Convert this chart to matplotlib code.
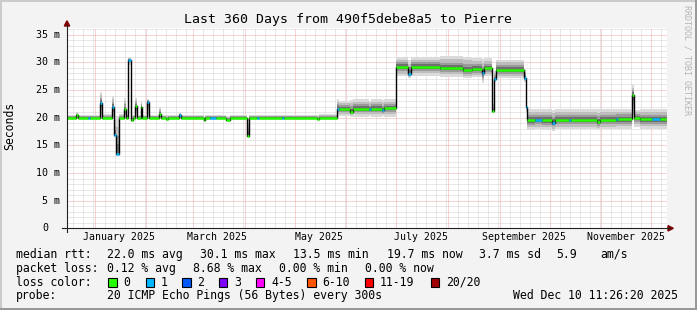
import matplotlib
matplotlib.use('Agg')
import matplotlib.pyplot as plt
from matplotlib.patches import Rectangle, Polygon
from matplotlib.lines import Line2D
from datetime import datetime, timedelta

W, H = 697, 310
start = datetime(2024, 12, 15, 11, 26, 20)   # 360 days before the end stamp
span = 360.0

# median rtt steps: day offset from start, median (ms), smoke low/high (ms), lost pings
seg_day = [0.0, 5.4, 6.6, 12.6, 13.8, 19.5, 20.7, 26.7, 27.9, 29.4,
           30.9, 33.9, 35.1, 36.3, 38.1, 39.3, 40.5, 41.7, 44.1, 45.0,
           48.0, 49.2, 55.2, 56.1, 59.4, 60.6, 67.2, 68.4, 81.9, 82.8,
           85.8, 89.4, 95.4, 97.8, 108.0, 109.2, 114.0, 115.2, 129.0, 130.2,
           150.0, 151.2, 161.7, 162.9, 169.8, 171.6, 181.2, 182.4, 189.0, 190.2,
           197.1, 204.6, 206.1, 223.8, 237.6, 243.0, 248.7, 249.9, 255.0, 256.2,
           257.4, 273.9, 275.1, 276.0, 280.8, 284.8, 291.0, 292.8, 301.2, 302.4,
           318.0, 319.8, 329.4, 330.6, 339.0, 339.9, 343.8, 350.8, 355.8]
seg_med = [20.0, 20.4, 20.0, 20.0, 20.0, 22.6, 20.0, 21.9, 16.9, 13.5,
           20.0, 21.5, 20.0, 30.4, 19.6, 20.0, 22.1, 20.0, 21.9, 20.0,
           22.9, 20.0, 20.7, 20.0, 19.8, 20.0, 20.5, 20.0, 19.5, 20.0,
           20.0, 20.0, 19.6, 20.0, 16.7, 20.0, 20.0, 20.0, 20.0, 20.0,
           19.8, 20.0, 21.6, 21.6, 21.1, 21.6, 21.5, 21.6, 21.4, 21.7,
           29.2, 27.9, 29.2, 28.9, 28.6, 28.8, 28.0, 28.9, 21.2, 27.0,
           28.6, 27.1, 22.0, 19.5, 19.6, 19.5, 19.1, 19.6, 19.6, 19.6,
           19.2, 19.6, 19.7, 19.7, 24.1, 20.0, 19.7, 19.7, 19.7]
seg_lo = [19.7, 19.8, 19.7, 19.7, 19.7, 20.0, 19.7, 20.0, 16.5, 13.2,
          19.7, 20.0, 19.7, 29.6, 19.3, 19.7, 20.2, 19.7, 20.3, 19.7,
          20.5, 19.7, 20.0, 19.7, 19.6, 19.7, 19.9, 19.7, 19.3, 19.7,
          19.7, 19.7, 19.4, 19.7, 16.5, 19.7, 19.7, 19.7, 19.7, 19.7,
          19.6, 19.7, 20.2, 20.3, 20.2, 20.2, 20.3, 20.2, 20.3, 20.2,
          27.5, 27.2, 27.6, 27.4, 27.2, 27.4, 26.3, 27.5, 20.8, 26.5,
          27.2, 26.5, 21.0, 17.8, 17.9, 17.8, 17.6, 17.9, 17.9, 17.9,
          17.8, 17.9, 18.0, 18.0, 20.5, 18.3, 18.0, 18.0, 18.0]
seg_hi = [20.5, 21.0, 20.5, 20.5, 20.5, 24.7, 20.6, 24.0, 20.5, 20.3,
          20.6, 23.5, 20.6, 30.9, 20.5, 20.5, 23.6, 20.5, 23.0, 20.5,
          23.4, 20.5, 21.9, 20.5, 20.4, 20.5, 20.9, 20.5, 20.2, 20.5,
          20.5, 20.5, 20.3, 20.5, 19.8, 20.5, 20.5, 20.5, 20.5, 20.5,
          20.4, 20.6, 23.3, 23.0, 23.2, 23.3, 23.0, 23.3, 23.1, 23.3,
          31.0, 30.5, 31.0, 31.2, 31.0, 30.8, 30.6, 30.8, 22.5, 28.5,
          30.5, 28.8, 27.0, 21.6, 21.6, 21.6, 21.4, 21.6, 21.6, 21.6,
          21.5, 21.6, 21.6, 21.6, 25.9, 21.3, 21.5, 21.5, 21.5]
seg_loss = [0, 0, 0, 1, 0, 1, 0, 1, 1, 1,
            0, 0, 0, 1, 0, 0, 0, 0, 0, 0,
            1, 0, 0, 0, 0, 0, 1, 0, 0, 0,
            1, 0, 0, 0, 0, 0, 1, 0, 1, 0,
            0, 0, 1, 0, 0, 0, 1, 0, 1, 0,
            0, 1, 0, 0, 0, 0, 1, 0, 0, 1,
            0, 1, 1, 0, 1, 0, 1, 0, 1, 0,
            0, 0, 1, 0, 0, 0, 0, 1, 0]

loss_labels = ['0', '1', '2', '3', '4-5', '6-10', '11-19', '20/20']
loss_colors = ['#26ff00', '#00b8ff', '#0059ff', '#7e00ff', '#ff00ff', '#ff5500', '#ff0000', '#a10000']
yticks = [0, 5, 10, 15, 20, 25, 30, 35]
ytick_labels = ['0', '5 m', '10 m', '15 m', '20 m', '25 m', '30 m', '35 m']
xlabel_months = [(2025, 1, 'January 2025'), (2025, 3, 'March 2025'), (2025, 5, 'May 2025'),
                 (2025, 7, 'July 2025'), (2025, 9, 'September 2025'), (2025, 11, 'November 2025')]

plt.rcParams['font.family'] = 'DejaVu Sans Mono'
plt.rcParams['lines.scale_dashes'] = False

def fx(x):
    return x / W

def fy(y):
    return 1 - y / H

def day_of(d):
    return (d - start).total_seconds() / 86400.0

fig = plt.figure(figsize=(6.97, 3.10), dpi=100, facecolor='#f3f3f3')
ax = fig.add_axes([fx(67), fy(228.3), 600 / W, 200.3 / H])
ax.set_facecolor('white')
ax.set_xlim(0, span)
ax.set_ylim(0, 36.2)
for s in ax.spines.values():
    s.set_visible(False)
ax.set_xticks([])
ax.set_yticks([])

# grid
dot = (0, (0.72, 0.72))
for v in range(1, 37):
    if v % 5:
        ax.axhline(v, color='#d2d2d2', lw=0.72, ls=dot, zorder=0.5)
for v in yticks[1:]:
    ax.axhline(v, color='#f0a8a8', lw=0.72, ls=dot, zorder=0.6)
months = []
for m in range(12, 25):
    yr = 2024 + (m - 1) // 12
    mo = (m - 1) % 12 + 1
    for md in [1, 7, 13, 19, 25, 31]:
        try:
            d = day_of(datetime(yr, mo, md))
        except ValueError:
            continue
        if 0 < d < span:
            if md == 1:
                months.append(d)
            else:
                ax.axvline(d, color='#d2d2d2', lw=0.72, ls=dot, zorder=0.5)
for d in months:
    ax.axvline(d, color='#f0a8a8', lw=0.72, ls=dot, zorder=0.6)

# smoke
xs = seg_day + [span]
med = seg_med + [seg_med[-1]]
lo = seg_lo + [seg_lo[-1]]
hi = seg_hi + [seg_hi[-1]]
shades = [(1.0, '#dadada'), (0.72, '#bdbdbd'), (0.46, '#9a9a9a'), (0.25, '#707070')]
for f, c in shades:
    ax.fill_between(xs, [m - f * (m - l) for m, l in zip(med, lo)],
                    [m + f * (h - m) for m, h in zip(med, hi)],
                    step='post', color=c, lw=0, zorder=1)

# median
ax.step(xs, med, where='post', color='#000000', lw=1.0, zorder=2)
ax.hlines(seg_med, seg_day, seg_day[1:] + [span],
          colors=[loss_colors[l] for l in seg_loss], lw=1.8, zorder=3)

# tick labels
for v, lab in zip(yticks, ytick_labels):
    if lab == '0':
        ax.text(-24.7 / 600, v, lab, transform=ax.get_yaxis_transform(),
                ha='left', va='center', fontsize=7.2)
    else:
        ax.text(-7 / 600, v, lab, transform=ax.get_yaxis_transform(),
                ha='right', va='center', fontsize=7.2)
for yr, mo, lab in xlabel_months:
    ax.text(day_of(datetime(yr, mo, 1)) + 14.6, -11.7 / 200, lab,
            transform=ax.get_xaxis_transform(), ha='center', va='baseline', fontsize=7.1)

# axes and arrows
fig.add_artist(Line2D([fx(67), fx(67)], [fy(232), fy(25)], color='#222222', lw=0.8))
fig.add_artist(Line2D([fx(62), fx(670)], [fy(228.3), fy(228.3)], color='#222222', lw=0.8))
fig.add_artist(Polygon([(fx(64.3), fy(26)), (fx(69.7), fy(26)), (fx(67), fy(20.8))],
                       closed=True, color='#7f0000'))
fig.add_artist(Polygon([(fx(668), fy(225.6)), (fx(668), fy(231)), (fx(673.3), fy(228.3))],
                       closed=True, color='#7f0000'))

# frame shading
fig.add_artist(Rectangle((0, fy(2)), 1, 2 / H, color='#cbcbcb', lw=0))
fig.add_artist(Rectangle((0, 0), 2 / W, 1, color='#cbcbcb', lw=0))
fig.add_artist(Rectangle((0, 0), 1, 2.5 / H, color='#999999', lw=0))
fig.add_artist(Rectangle((fx(694.5), 0), 2.5 / W, 1, color='#999999', lw=0))

# titles
fig.text(fx(347.5), fy(23.3), 'Last 360 Days from 490f5debe8a5 to Pierre',
         ha='center', va='baseline', fontsize=9.5)
fig.text(fx(10), fy(125.5), 'Seconds', rotation=90, ha='center', va='center', fontsize=8.3)
fig.text(fx(686.7), fy(60), 'RRDTOOL / TOBI OETIKER', rotation=270,
         ha='center', va='center', fontsize=6, color='#b4b4b4')

# legend
fs = 8.3
rows = [
    (257.7, [(16, 'median rtt:'), (107.3, '22.0 ms avg'), (200, '30.1 ms max'),
             (293.3, '13.5 ms min'), (386.7, '19.7 ms now'), (479.3, '3.7 ms sd'),
             (556.7, '5.9'), (600, 'am/s')]),
    (271.7, [(16, 'packet loss:'), (107.3, '0.12 % avg'), (193.3, '8.68 % max'),
             (279.3, '0.00 % min'), (365, '0.00 % now')]),
    (285.7, [(16, 'loss color:')]),
    (299.3, [(16, 'probe:'), (107.3, '20 ICMP Echo Pings (56 Bytes) every 300s'),
             (512.7, 'Wed Dec 10 11:26:20 2025')]),
]
for yb, items in rows:
    for x, s in items:
        fig.text(fx(x), fy(yb), s, ha='left', va='baseline', fontsize=fs)

box_x = [108.3, 145.7, 182.3, 219, 256, 307.3, 365, 430.7]
for bx, c, lab in zip(box_x, loss_colors, loss_labels):
    fig.add_artist(Rectangle((fx(bx), fy(286.7)), 8.3 / W, 8.3 / H,
                             facecolor=c, edgecolor='black', lw=0.8))
    fig.text(fx(bx + 15), fy(285.7), lab, ha='left', va='baseline', fontsize=fs)

fig.savefig('out.png', dpi=100, facecolor=fig.get_facecolor())
